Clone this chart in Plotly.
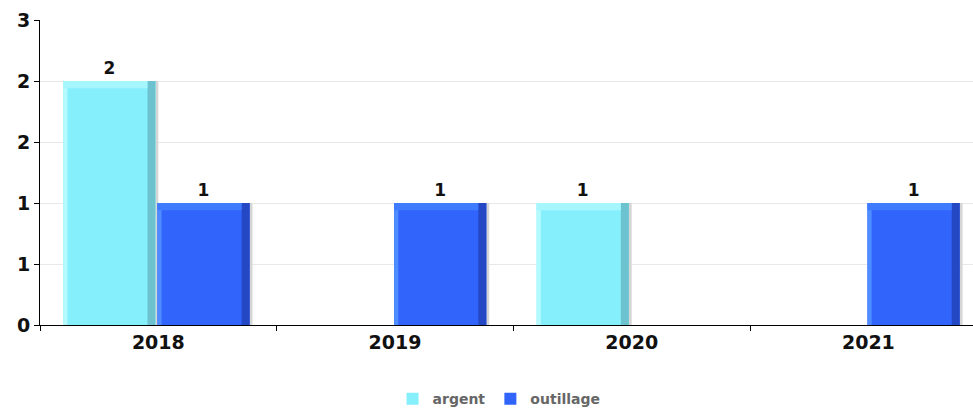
import plotly.graph_objects as go

years = ["2018", "2019", "2020", "2021"]
argent = [2, None, 1, None]
outillage = [1, 1, None, 1]
y_tick_vals = [0, 0.5, 1, 1.5, 2, 2.5]
y_tick_text = ["0", "1", "1", "2", "2", "3"]

series = [
    # name, values, main, left-light, right-dark, top-light, offset
    ("argent", argent, "#86EFFC", "#B4FAFF", "#6CC3CF", "#A6F6FE", -0.402),
    ("outillage", outillage, "#3164FB", "#4E8CFF", "#2447C4", "#3F7BFF", -0.004),
]
W = 0.39
FONT = "DejaVu Sans"

fig = go.Figure()
for name, vals, main, light, dark, top, off in series:
    txt = [str(v) if v is not None else "" for v in vals]
    # shadow
    fig.add_trace(go.Bar(x=years, y=vals, width=0.012, offset=off + W,
                         marker=dict(color="#D6D6D6", line=dict(width=0)),
                         showlegend=False, hoverinfo="skip"))
    # main body
    fig.add_trace(go.Bar(x=years, y=vals, name=name, width=W, offset=off,
                         marker=dict(color=main, line=dict(width=0)),
                         text=txt, textposition="outside", cliponaxis=False,
                         textfont=dict(family=FONT, size=17, color="#111111", weight="bold"),
                         hoverinfo="x+y+name"))
    # left light strip
    fig.add_trace(go.Bar(x=years, y=vals, width=0.018, offset=off,
                         marker=dict(color=light, line=dict(width=0)),
                         showlegend=False, hoverinfo="skip"))
    # right dark strip
    fig.add_trace(go.Bar(x=years, y=vals, width=0.034, offset=off + W - 0.034,
                         marker=dict(color=dark, line=dict(width=0)),
                         showlegend=False, hoverinfo="skip"))
    # top bevel
    top_h = [0.06 if v is not None else None for v in vals]
    top_base = [v - 0.06 if v is not None else None for v in vals]
    fig.add_trace(go.Bar(x=years, y=top_h, base=top_base, width=W - 0.034, offset=off,
                         marker=dict(color=top, line=dict(width=0)),
                         showlegend=False, hoverinfo="skip"))

fig.update_layout(
    width=973, height=408,
    margin=dict(l=40, r=0, t=20, b=83, autoexpand=False),
    paper_bgcolor="white", plot_bgcolor="white",
    barmode="overlay",
    font=dict(family=FONT, size=16, color="#111111"),
    legend=dict(orientation="h", x=0.492, xanchor="center", y=-0.243, yanchor="middle",
                font=dict(family=FONT, size=14, color="#666666", weight="bold"),
                itemwidth=30, traceorder="normal"),
    showlegend=True,
)
fig.update_xaxes(
    type="category", range=[-0.5, 3.442], automargin=False,
    showline=True, linecolor="#000000", linewidth=1,
    ticks="outside", ticklen=5, tickcolor="#000000", tickson="boundaries",
    tickfont=dict(family=FONT, size=19, color="#111111", weight="bold"),
    showgrid=False, zeroline=False,
)
fig.update_yaxes(
    range=[0, 2.5], tickvals=y_tick_vals, ticktext=y_tick_text, automargin=False,
    showline=True, linecolor="#000000", linewidth=1,
    ticks="outside", ticklen=5, tickcolor="#000000",
    tickfont=dict(family=FONT, size=19, color="#111111", weight="bold"),
    showgrid=True, gridcolor="#E8E8E8", gridwidth=1, zeroline=False,
)

fig.write_html("out.html", config={"displayModeBar": False},
               post_script="document.body.style.margin='0';document.body.style.overflow='hidden';")
